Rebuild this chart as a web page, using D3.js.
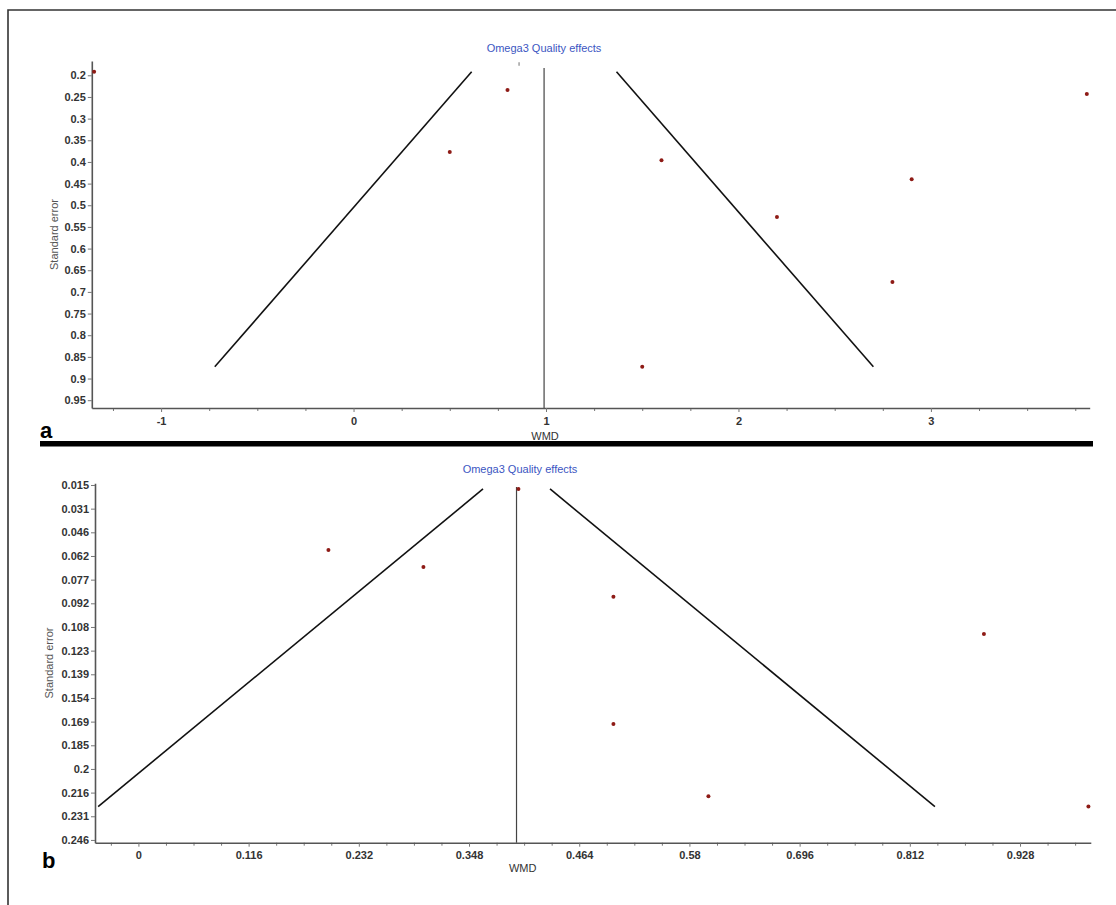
<!DOCTYPE html>
<html>
<head>
<meta charset="utf-8">
<script src="https://cdn.jsdelivr.net/npm/d3@7"></script>
<style>
  body { margin: 0; background: #fff; }
  svg text { font-family: Arial, "Liberation Sans", sans-serif; }
</style>
</head>
<body>
<svg width="1116" height="905"></svg>
<script>
  // ---- panel a data ----
  var wmdA = [-1.348, 0.8, 0.5, 1.6, 3.81, 2.9, 2.2, 2.8, 1.5];
  var seA  = [0.192, 0.234, 0.377, 0.396, 0.243, 0.44, 0.527, 0.677, 0.873];
  var pooledA = 0.99;
  var lineTopA = 0.183;
  var markA = [0.86, 0.170, 0.178];          // stray tick under title: wmd, se1, se2
  var xDomainA = [-1.36, 3.825];
  var yDomainA = [0.167, 0.968];
  var xTicksA = [-1, 0, 1, 2, 3];
  var xMinorStepA = 0.25;
  var yTicksA = [0.2, 0.25, 0.3, 0.35, 0.4, 0.45, 0.5, 0.55, 0.6, 0.65, 0.7, 0.75, 0.8, 0.85, 0.9, 0.95];
  var yLabelsA = ["0.2", "0.25", "0.3", "0.35", "0.4", "0.45", "0.5", "0.55", "0.6", "0.65", "0.7", "0.75", "0.8", "0.85", "0.9", "0.95"];

  // ---- panel b data ----
  var wmdB = [0.4, 0.2, 0.3, 0.5, 0.89, 0.5, 0.6, 1.0];
  var seB  = [0.018, 0.0577, 0.0688, 0.0881, 0.1124, 0.171, 0.218, 0.2247];
  var pooledB = 0.398;
  var lineTopB = 0.0167;
  var xDomainB = [-0.0457, 1.0025];
  var yDomainB = [0.0143, 0.2482];
  var xTicksB = [0, 0.116, 0.232, 0.348, 0.464, 0.58, 0.696, 0.812, 0.928];
  var xLabelsB = ["0", "0.116", "0.232", "0.348", "0.464", "0.58", "0.696", "0.812", "0.928"];
  var xMinorStepB = 0.029;
  var yTicksB = [0.0154, 0.0308, 0.0462, 0.0616, 0.077, 0.0924, 0.1078, 0.1232, 0.1386, 0.154, 0.1694, 0.1848, 0.2002, 0.2156, 0.231, 0.2464];
  var yLabelsB = ["0.015", "0.031", "0.046", "0.062", "0.077", "0.092", "0.108", "0.123", "0.139", "0.154", "0.169", "0.185", "0.2", "0.216", "0.231", "0.246"];

  var z = 1.96;
  var title = "Omega3 Quality effects";

  var svg = d3.select("svg");

  // outer frame (left and top edges only, the rest is cropped)
  svg.append("path")
      .attr("d", "M8,905 L8,10 L1116,10")
      .attr("fill", "none")
      .attr("stroke", "#333")
      .attr("stroke-width", 1.6);

  // thick separator between panels
  svg.append("rect")
      .attr("x", 40).attr("y", 441)
      .attr("width", 1053).attr("height", 5.5)
      .attr("fill", "#000");

  function drawPanel(p)
  {
    var x = d3.scaleLinear().domain(p.xDomain).range(p.xRange);
    var y = d3.scaleLinear().domain(p.yDomain).range(p.yRange);
    var g = svg.append("g");

    // minor x ticks
    var minor = d3.range(Math.ceil(p.xDomain[0] / p.minorStep) * p.minorStep, p.xDomain[1], p.minorStep)
        .filter(function (v) { return !p.xTicks.some(function (t) { return Math.abs(t - v) < 1e-6; }); });
    var xMinorAxis = g.append("g")
        .attr("transform", "translate(0," + p.yRange[1] + ")")
        .call(d3.axisBottom(x).tickValues(minor).tickSize(3).tickSizeOuter(0).tickFormat(""));
    xMinorAxis.select(".domain").remove();

    var xAxis = g.append("g")
        .attr("transform", "translate(0," + p.yRange[1] + ")")
        .call(d3.axisBottom(x).tickValues(p.xTicks).tickSize(4).tickSizeOuter(0)
            .tickPadding(5)
            .tickFormat(function (d, i) { return p.xLabels[i]; }));

    var yAxis = g.append("g")
        .attr("transform", "translate(" + p.xRange[0] + ",0)")
        .call(d3.axisLeft(y).tickValues(p.yTicks).tickSize(4).tickSizeOuter(0)
            .tickPadding(2)
            .tickFormat(function (d, i) { return p.yLabels[i]; }));

    [xAxis, yAxis, xMinorAxis].forEach(function (a)
    {
      a.selectAll("path.domain").attr("stroke", "#555").attr("stroke-width", 1.6);
      a.selectAll(".tick line").attr("stroke", "#777").attr("stroke-width", 1);
      a.selectAll(".tick text")
          .attr("fill", "#333")
          .attr("font-size", 11)
          .attr("font-weight", "bold")
          .style("font-family", "Arial, 'Liberation Sans', sans-serif");
    });

    // pooled estimate line
    g.append("line")
        .attr("x1", x(p.pooled)).attr("x2", x(p.pooled))
        .attr("y1", y(p.lineTop)).attr("y2", p.yRange[1])
        .attr("stroke", "#444").attr("stroke-width", 1.2);

    // funnel limits
    var seExt = d3.extent(p.se);
    [-1, 1].forEach(function (side)
    {
      g.append("line")
          .attr("x1", x(p.pooled + side * z * seExt[0])).attr("y1", y(seExt[0]))
          .attr("x2", x(p.pooled + side * z * seExt[1])).attr("y2", y(seExt[1]))
          .attr("stroke", "#111").attr("stroke-width", 1.6);
    });

    if (p.mark)
    {
      g.append("line")
          .attr("x1", x(p.mark[0])).attr("x2", x(p.mark[0]))
          .attr("y1", y(p.mark[1])).attr("y2", y(p.mark[2]))
          .attr("stroke", "#888").attr("stroke-width", 1.2);
    }

    // studies
    g.selectAll("circle.study").data(p.wmd).enter()
        .append("circle")
        .attr("class", "study")
        .attr("cx", function (d) { return x(d); })
        .attr("cy", function (d, i) { return y(p.se[i]); })
        .attr("r", 2)
        .attr("fill", "#8e1b16");

    // texts
    g.append("text")
        .attr("x", p.titlePos[0]).attr("y", p.titlePos[1])
        .attr("text-anchor", "middle")
        .attr("font-size", 11)
        .attr("fill", "#3c56c2")
        .text(title);

    g.append("text")
        .attr("transform", "translate(" + p.yLabelPos[0] + "," + p.yLabelPos[1] + ") rotate(-90)")
        .attr("text-anchor", "middle")
        .attr("font-size", 11)
        .attr("fill", "#555")
        .text("Standard error");

    g.append("text")
        .attr("x", p.xLabelPos[0]).attr("y", p.xLabelPos[1])
        .attr("text-anchor", "middle")
        .attr("font-size", 11)
        .attr("fill", "#333")
        .text("WMD");

    g.append("text")
        .attr("x", p.letterPos[0]).attr("y", p.letterPos[1])
        .attr("font-size", 22)
        .attr("font-weight", "bold")
        .attr("fill", "#000")
        .text(p.letter);
  }

  drawPanel({
    wmd: wmdA, se: seA, pooled: pooledA, lineTop: lineTopA, mark: markA,
    xDomain: xDomainA, yDomain: yDomainA,
    xRange: [91.8, 1089.7], yRange: [61, 408],
    xTicks: xTicksA, xLabels: xTicksA.map(String), minorStep: xMinorStepA,
    yTicks: yTicksA, yLabels: yLabelsA,
    titlePos: [544, 52], yLabelPos: [58, 234.5], xLabelPos: [545, 439.5],
    letter: "a", letterPos: [40, 438]
  });

  drawPanel({
    wmd: wmdB, se: seB, pooled: pooledB, lineTop: lineTopB,
    xDomain: xDomainB, yDomain: yDomainB,
    xRange: [95, 1090.8], yRange: [483.3, 842.7],
    xTicks: xTicksB, xLabels: xLabelsB, minorStep: xMinorStepB,
    yTicks: yTicksB, yLabels: yLabelsB,
    titlePos: [520, 473], yLabelPos: [53, 663], xLabelPos: [522.7, 872],
    letter: "b", letterPos: [42, 868]
  });
</script>
</body>
</html>
